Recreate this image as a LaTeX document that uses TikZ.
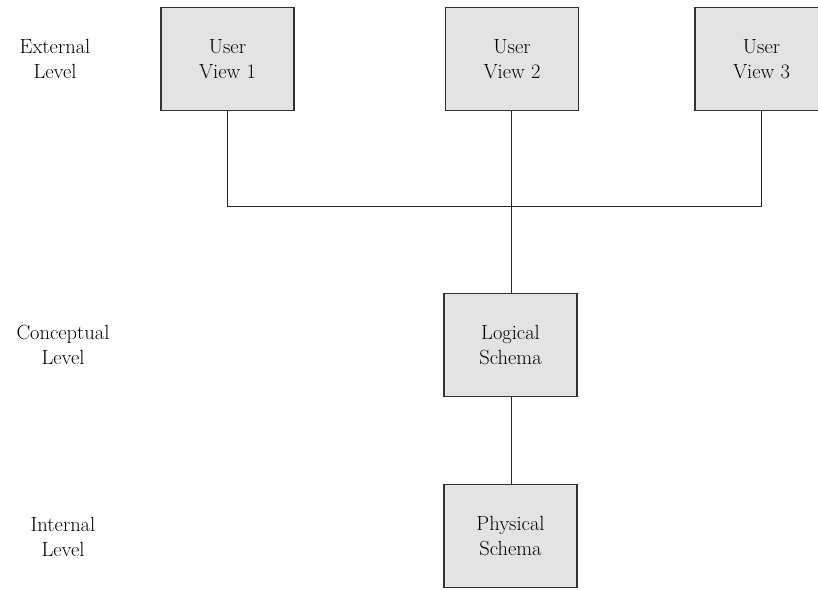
\documentclass[tikz,border=0pt]{standalone}
\begin{document}
\begin{tikzpicture}[x=1pt,y=-1pt,
  schemabox/.style={draw=black!80, line width=1.1pt, fill=black!11,
    minimum width=133pt, minimum height=103pt, inner sep=0pt,
    align=center, font=\fontsize{20.5}{24.5}\selectfont},
  levellabel/.style={align=center, font=\fontsize{20.5}{24.5}\selectfont},
  link/.style={draw=black!85, line width=0.9pt}]
\useasboundingbox (0,0) rectangle (818,589);

% level captions
\node[levellabel] (ext)  at (55,59)   {External\\Level};
\node[levellabel] (conc) at (63,345)  {Conceptual\\Level};
\node[levellabel] (int)  at (63,537)  {Internal\\Level};

% schema boxes
\node[schemabox] (uv1) at (227.5,59) {User\\View 1};
\node[schemabox] (uv2) at (512,59)   {User\\View 2};
\node[schemabox] (uv3) at (761.5,59) {User\\View 3};
\node[schemabox] (logical)  at (510.5,345) {Logical\\Schema};
\node[schemabox] (physical) at (510.5,536) {Physical\\Schema};

% junction of the user views
\coordinate (bus) at (511,206);

\draw[link] (uv1.south) |- (bus);
\draw[link] (uv3.south) |- (bus);
\draw[link] (uv2.south -| bus) -- (bus);
\draw[link] (bus) -- (bus |- logical.north);
\draw[link] (logical.south -| bus) -- (bus |- physical.north);
\end{tikzpicture}
\end{document}
